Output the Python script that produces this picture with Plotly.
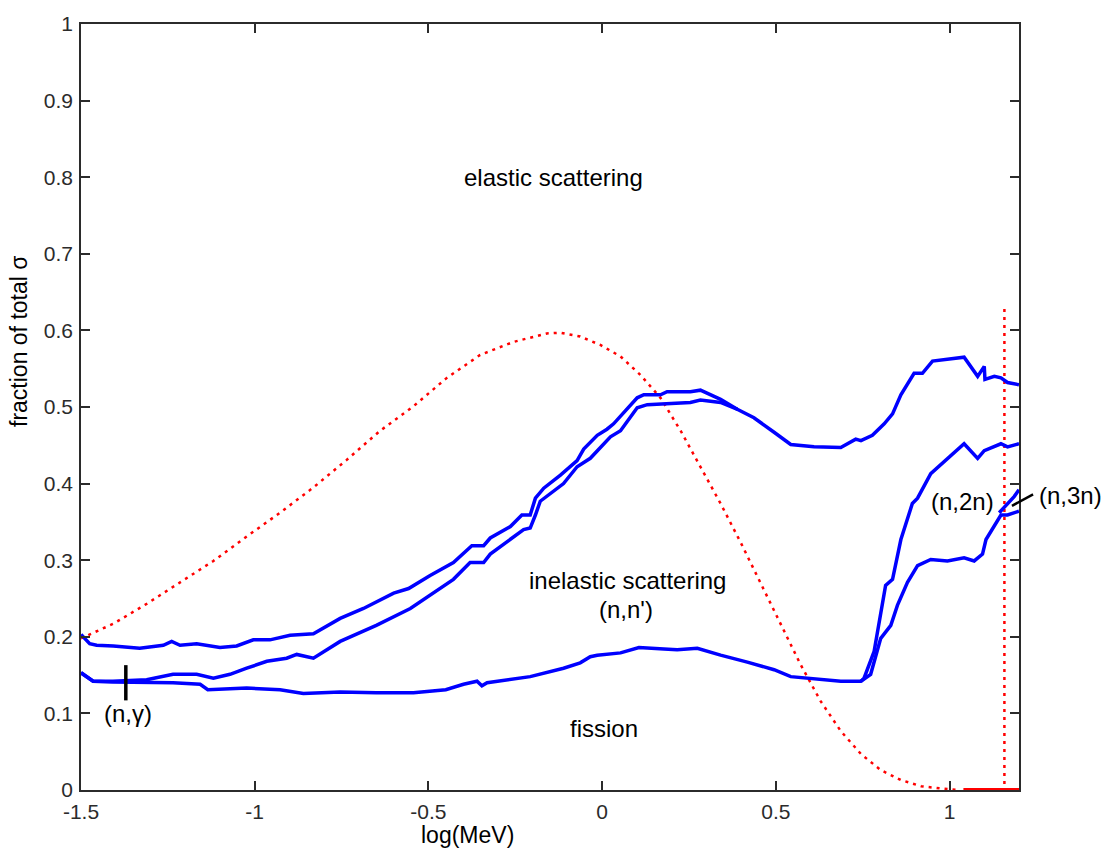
import plotly.graph_objects as go

# ---------------- data ----------------
# top boundary (fission + inelastic + capture); elastic above
top_x = [-1.5, -1.475, -1.455, -1.407, -1.331, -1.263, -1.239, -1.215, -1.167, -1.100, -1.052,
         -1.004, -0.956, -0.898, -0.831, -0.812, -0.754, -0.687, -0.600, -0.557, -0.495, -0.428,
         -0.375, -0.341, -0.322, -0.264, -0.231, -0.207, -0.192, -0.168, -0.120, -0.072, -0.053,
         -0.014, 0.014, 0.033, 0.058, 0.101, 0.120, 0.168, 0.187, 0.254, 0.283, 0.341, 0.389,
         0.437, 0.495, 0.543, 0.610, 0.687, 0.730, 0.745, 0.778, 0.812, 0.836, 0.860, 0.898,
         0.922, 0.951, 1.033, 1.042, 1.081, 1.100, 1.102, 1.129, 1.148, 1.167, 1.2]
top_y = [0.203, 0.191, 0.189, 0.188, 0.185, 0.189, 0.194, 0.189, 0.191, 0.186, 0.188,
         0.196, 0.196, 0.202, 0.204, 0.209, 0.224, 0.237, 0.257, 0.263, 0.280, 0.297,
         0.319, 0.319, 0.329, 0.344, 0.359, 0.359, 0.381, 0.394, 0.411, 0.430, 0.445,
         0.463, 0.471, 0.478, 0.491, 0.512, 0.516, 0.516, 0.520, 0.520, 0.522, 0.510, 0.497,
         0.486, 0.467, 0.451, 0.448, 0.447, 0.458, 0.456, 0.463, 0.478, 0.491, 0.516, 0.544,
         0.544, 0.560, 0.564, 0.565, 0.540, 0.553, 0.536, 0.540, 0.538, 0.532, 0.529]

# fission + inelastic boundary
inel_x = [-1.5, -1.465, -1.408, -1.311, -1.235, -1.167, -1.119, -1.071, -1.023, -0.965, -0.908,
          -0.879, -0.831, -0.783, -0.754, -0.65, -0.552, -0.428, -0.380, -0.341, -0.322, -0.226,
          -0.207, -0.192, -0.178, -0.111, -0.072, -0.034, 0.024, 0.053, 0.101, 0.130, 0.178,
          0.254, 0.283, 0.341, 0.39]
inel_y = [0.153, 0.142, 0.142, 0.144, 0.151, 0.151, 0.146, 0.151, 0.159, 0.168, 0.172,
          0.177, 0.172, 0.185, 0.194, 0.215, 0.237, 0.275, 0.297, 0.297, 0.308, 0.340,
          0.342, 0.359, 0.377, 0.400, 0.422, 0.433, 0.461, 0.469, 0.499, 0.503, 0.504,
          0.506, 0.509, 0.506, 0.497]

# fission boundary
fis_x = [-1.5, -1.465, -1.41, -1.311, -1.235, -1.157, -1.135, -1.023, -0.927, -0.86, -0.754,
         -0.65, -0.543, -0.45, -0.399, -0.36, -0.346, -0.331, -0.207, -0.111, -0.063, -0.034,
         -0.014, 0.053, 0.106, 0.178, 0.216, 0.274, 0.341, 0.418, 0.495, 0.543, 0.591, 0.687,
         0.745, 0.773, 0.802, 0.831, 0.850, 0.879, 0.908, 0.946, 0.994, 1.042, 1.071, 1.095,
         1.105, 1.129, 1.148, 1.167, 1.2]
fis_y = [0.153, 0.142, 0.141, 0.141, 0.140, 0.138, 0.131, 0.133, 0.131, 0.126, 0.128,
         0.127, 0.127, 0.131, 0.138, 0.142, 0.136, 0.140, 0.148, 0.159, 0.166, 0.174,
         0.176, 0.179, 0.186, 0.184, 0.183, 0.185, 0.176, 0.167, 0.157, 0.148, 0.146, 0.142,
         0.142, 0.151, 0.198, 0.215, 0.241, 0.271, 0.293, 0.301, 0.299, 0.303, 0.299, 0.308,
         0.327, 0.344, 0.359, 0.359, 0.364]

# (n,2n) boundary
n2n_x = [0.745, 0.754, 0.783, 0.816, 0.836, 0.860, 0.893, 0.908, 0.946, 0.994, 1.042, 1.081,
         1.100, 1.148, 1.167, 1.2]
n2n_y = [0.142, 0.146, 0.181, 0.267, 0.275, 0.327, 0.374, 0.381, 0.413, 0.433, 0.452, 0.433,
         0.443, 0.452, 0.448, 0.452]

# (n,3n) boundary
n3n_x = [1.143, 1.186, 1.2]
n3n_y = [0.362, 0.383, 0.392]

# neutron spectrum (red dotted)
spec_x = [-1.5, -1.407, -1.311, -1.215, -1.119, -1.023, -0.927, -0.831, -0.735, -0.639, -0.543,
          -0.447, -0.351, -0.255, -0.159, -0.12, -0.063, -0.005, 0.053, 0.110, 0.168, 0.226,
          0.283, 0.341, 0.399, 0.456, 0.514, 0.571, 0.629, 0.687, 0.745, 0.802, 0.860, 0.918,
          0.975, 1.03]
spec_y = [0.198, 0.217, 0.243, 0.271, 0.299, 0.331, 0.362, 0.395, 0.431, 0.469, 0.501,
          0.538, 0.568, 0.585, 0.596, 0.597, 0.592, 0.581, 0.566, 0.542, 0.512, 0.469,
          0.422, 0.374, 0.323, 0.271, 0.217, 0.164, 0.116, 0.077, 0.047, 0.026, 0.013, 0.005,
          0.002, 0.0]

# 14 MeV line (red)
spike_x = [1.158, 1.158]
spike_y = [0.628, 0.0]
base_x = [1.04, 1.2]
base_y = [0.0, 0.0]

x_ticks = [-1.5, -1, -0.5, 0, 0.5, 1]
x_tick_labels = ["-1.5", "-1", "-0.5", "0", "0.5", "1"]
y_ticks = [0, 0.1, 0.2, 0.3, 0.4, 0.5, 0.6, 0.7, 0.8, 0.9, 1]
y_tick_labels = ["0", "0.1", "0.2", "0.3", "0.4", "0.5", "0.6", "0.7", "0.8", "0.9", "1"]

# region labels inside the axes (data coordinates)
labels = ["elastic scattering", "inelastic scattering", "(n,n')", "fission", "(n,γ)", "(n,2n)"]
label_x = [-0.140, 0.073, 0.070, 0.004, -1.365, 1.037]
label_y = [0.800, 0.274, 0.236, 0.080, 0.100, 0.376]

FONT = "Liberation Sans, Arial, sans-serif"
BLUE = "#0000ff"
RED = "#ff0000"

fig = go.Figure()
fig.add_trace(go.Scatter(x=spec_x, y=spec_y, mode="lines",
                         line=dict(color=RED, width=2.5, dash="3px,5px"), hoverinfo="skip"))
fig.add_trace(go.Scatter(x=spike_x, y=spike_y, mode="lines",
                         line=dict(color=RED, width=2.5, dash="3px,5px"), hoverinfo="skip"))
fig.add_trace(go.Scatter(x=base_x, y=base_y, mode="lines",
                         line=dict(color=RED, width=4), hoverinfo="skip", cliponaxis=False))
for xs, ys in [(fis_x, fis_y), (inel_x, inel_y), (top_x, top_y), (n2n_x, n2n_y), (n3n_x, n3n_y)]:
    fig.add_trace(go.Scatter(x=xs, y=ys, mode="lines",
                             line=dict(color=BLUE, width=3.5, shape="linear"), hoverinfo="skip"))

for t, lx, ly in zip(labels, label_x, label_y):
    fig.add_annotation(x=lx, y=ly, xref="x", yref="y", text=t, showarrow=False,
                       font=dict(family=FONT, size=24, color="#000000"),
                       xanchor="center", yanchor="middle")

# (n,3n) label sits outside the axes, right of the plot area
fig.add_annotation(x=1.055, y=0.384, xref="paper", yref="paper", text="(n,3n)", showarrow=False,
                   font=dict(family=FONT, size=24, color="#000000"),
                   xanchor="center", yanchor="middle")

# pointer lines for (n,gamma) and (n,3n)
fig.add_shape(type="line", xref="x", yref="y", x0=-1.371, x1=-1.371, y0=0.117, y1=0.163,
              line=dict(color="#000000", width=3.5))
fig.add_shape(type="line", xref="paper", yref="paper", x0=0.9925, x1=1.015, y0=0.371, y1=0.386,
              line=dict(color="#000000", width=2.5))

# axis titles
fig.add_annotation(x=0.5, y=0.0, xref="paper", yref="paper", text="log(MeV)", showarrow=False,
                   font=dict(family=FONT, size=23, color="#000000"),
                   xanchor="center", yanchor="top", yshift=-30, xshift=-83)
fig.add_annotation(x=0, y=0.5, xref="paper", yref="paper", text="fraction of total σ",
                   showarrow=False, textangle=-90,
                   font=dict(family=FONT, size=23, color="#000000"),
                   xanchor="center", yanchor="middle", xshift=-62, yshift=65)

axis_common = dict(showgrid=False, zeroline=False, showline=True, linecolor="#2b2b2b",
                   linewidth=1.5, mirror="allticks", ticks="inside", ticklen=9,
                   tickwidth=1.5, tickcolor="#2b2b2b",
                   tickfont=dict(family=FONT, size=21, color="#2b2b2b"))
fig.update_xaxes(range=[-1.5, 1.2], tickvals=x_ticks, ticktext=x_tick_labels,
                 ticklabelstandoff=2, **axis_common)
fig.update_yaxes(range=[0, 1], tickvals=y_ticks, ticktext=y_tick_labels,
                 ticklabelstandoff=2, **axis_common)

fig.update_layout(width=1109, height=854, margin=dict(l=81, r=90, t=15, b=64),
                  plot_bgcolor="#ffffff", paper_bgcolor="#ffffff", showlegend=False,
                  font=dict(family=FONT))

fig.write_html("out.html")
